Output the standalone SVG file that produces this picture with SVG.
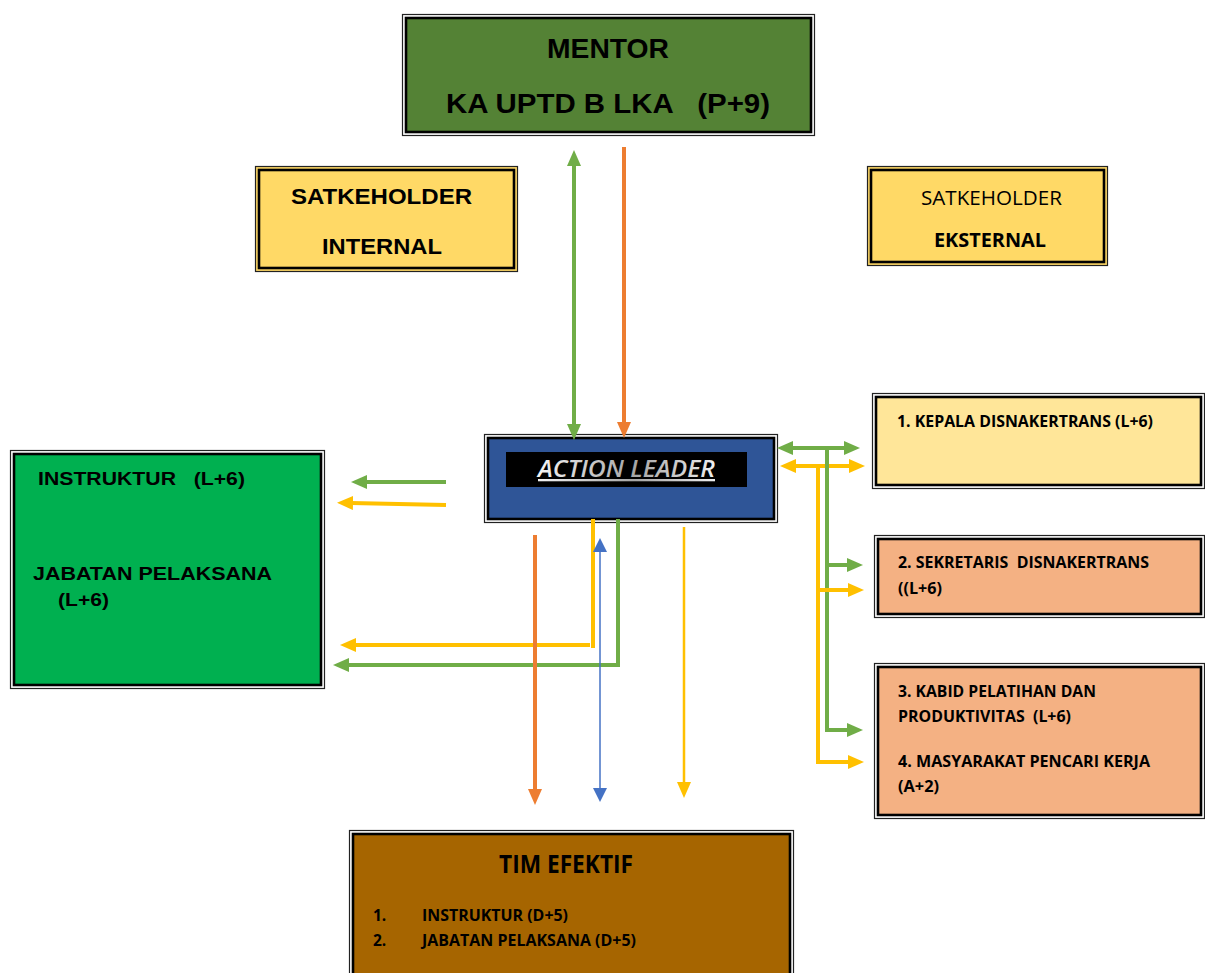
<svg xmlns="http://www.w3.org/2000/svg" width="1205" height="973" viewBox="0 0 1205 973">
<style>
.fo{stroke:#222;stroke-width:1.2}
.fi{stroke:#000;stroke-width:2.6}
.ar{font-family:"Liberation Sans",Arial,sans-serif;font-weight:bold;fill:#000}
.ca{font-family:"Open Sans","Noto Sans",sans-serif;font-weight:bold;fill:#000}
.cr{font-family:"Open Sans","Noto Sans",sans-serif;fill:#000}
.g{stroke:#70AD47;stroke-width:4;fill:none}
.y{stroke:#FFC000;stroke-width:4;fill:none}
.o{stroke:#ED7D31;stroke-width:4;fill:none}
.b{stroke:#4472C4;stroke-width:1.5;fill:none}
</style>
<defs>
<marker id="hG" markerUnits="userSpaceOnUse" markerWidth="16" markerHeight="14" refX="2" refY="7" orient="auto-start-reverse"><path d="M0,0 L16,7 L0,14 z" fill="#70AD47"/></marker>
<marker id="hY" markerUnits="userSpaceOnUse" markerWidth="16" markerHeight="14" refX="2" refY="7" orient="auto-start-reverse"><path d="M0,0 L16,7 L0,14 z" fill="#FFC000"/></marker>
<marker id="hO" markerUnits="userSpaceOnUse" markerWidth="16" markerHeight="14" refX="2" refY="7" orient="auto-start-reverse"><path d="M0,0 L16,7 L0,14 z" fill="#ED7D31"/></marker>
<marker id="hB" markerUnits="userSpaceOnUse" markerWidth="14" markerHeight="14" refX="2" refY="7" orient="auto-start-reverse"><path d="M0,0 L14,7 L0,14 z" fill="#4472C4"/></marker>
<linearGradient id="txtg" x1="0" y1="0" x2="1" y2="0">
<stop offset="0" stop-color="#f5f5f5"/><stop offset="0.55" stop-color="#a6a6a6"/><stop offset="1" stop-color="#efefef"/>
</linearGradient>
</defs>
<rect width="1205" height="973" fill="#fff"/>

<g id="mentor">
<rect class="fo" x="402.5" y="14.5" width="412" height="121" fill="#fff"/>
<rect class="fi" x="406" y="18" width="405" height="114" fill="#548235"/>
<text class="ar" x="608" y="58" font-size="27" text-anchor="middle" textLength="122" lengthAdjust="spacingAndGlyphs">MENTOR</text>
<text class="ar" x="446" y="113" font-size="27" textLength="324" lengthAdjust="spacingAndGlyphs" xml:space="preserve">KA UPTD B LKA   (P+9)</text>
</g>

<g id="stakeholder-internal">
<rect class="fo" x="255.5" y="166.5" width="262" height="105" fill="#FFD966"/>
<rect class="fi" x="259" y="170" width="255" height="98" fill="#FFD966"/>
<text class="ar" x="291" y="204" font-size="22" textLength="181" lengthAdjust="spacingAndGlyphs">SATKEHOLDER</text>
<text class="ar" x="322" y="254" font-size="22" textLength="120" lengthAdjust="spacingAndGlyphs">INTERNAL</text>
</g>

<g id="stakeholder-eksternal">
<rect class="fo" x="867.5" y="166.5" width="240" height="99" fill="#FFD966"/>
<rect class="fi" x="871" y="170" width="233" height="92" fill="#FFD966"/>
<text class="cr" x="921" y="205" font-size="20" textLength="141" lengthAdjust="spacingAndGlyphs">SATKEHOLDER</text>
<text class="ca" x="934" y="247" font-size="19" textLength="112" lengthAdjust="spacingAndGlyphs">EKSTERNAL</text>
</g>

<g id="action-leader">
<rect class="fo" x="484.5" y="434.5" width="293" height="88" fill="#fff"/>
<rect class="fi" x="488" y="438" width="286" height="81" fill="#2F5597"/>
<rect x="506" y="452" width="241" height="35" fill="#000"/>
<text x="538" y="477" font-family="'Open Sans','Noto Sans',sans-serif" font-style="italic" font-weight="600" font-size="23" fill="url(#txtg)" text-decoration="underline" textLength="177" lengthAdjust="spacingAndGlyphs">ACTION LEADER</text>
</g>

<g id="instruktur-pelaksana">
<rect class="fo" x="10.5" y="450.5" width="314" height="238" fill="#fff"/>
<rect class="fi" x="14" y="454" width="307" height="231" fill="#00B050"/>
<text class="ar" x="38" y="485" font-size="19" textLength="207" lengthAdjust="spacingAndGlyphs" xml:space="preserve">INSTRUKTUR   (L+6)</text>
<text class="ar" x="33" y="580" font-size="19" textLength="239" lengthAdjust="spacingAndGlyphs">JABATAN PELAKSANA</text>
<text class="ar" x="58" y="606" font-size="19" textLength="51" lengthAdjust="spacingAndGlyphs">(L+6)</text>
</g>

<g id="kepala-disnakertrans">
<rect class="fo" x="872.5" y="393.5" width="332" height="95" fill="#fff"/>
<rect class="fi" x="876" y="397" width="325" height="88" fill="#FFE699"/>
<text class="ca" x="897" y="427" font-size="16.5" textLength="256" lengthAdjust="spacingAndGlyphs">1. KEPALA DISNAKERTRANS (L+6)</text>
</g>

<g id="sekretaris">
<rect class="fo" x="874.5" y="535.5" width="330" height="82" fill="#fff"/>
<rect class="fi" x="878" y="539" width="323" height="75" fill="#F4B183"/>
<text class="ca" x="898" y="568" font-size="16.5" textLength="251" lengthAdjust="spacingAndGlyphs" xml:space="preserve">2. SEKRETARIS  DISNAKERTRANS</text>
<text class="ca" x="898" y="594" font-size="16.5" textLength="44" lengthAdjust="spacingAndGlyphs">((L+6)</text>
</g>

<g id="kabid-masyarakat">
<rect class="fo" x="874.5" y="663.5" width="330" height="155" fill="#fff"/>
<rect class="fi" x="878" y="667" width="323" height="148" fill="#F4B183"/>
<text class="ca" x="898" y="697" font-size="16.5" textLength="198" lengthAdjust="spacingAndGlyphs">3. KABID PELATIHAN DAN</text>
<text class="ca" x="898" y="722" font-size="16.5" textLength="173" lengthAdjust="spacingAndGlyphs" xml:space="preserve">PRODUKTIVITAS  (L+6)</text>
<text class="ca" x="898" y="767" font-size="16.5" textLength="252" lengthAdjust="spacingAndGlyphs">4. MASYARAKAT PENCARI KERJA</text>
<text class="ca" x="898" y="792" font-size="16.5" textLength="41" lengthAdjust="spacingAndGlyphs">(A+2)</text>
</g>

<g id="tim-efektif">
<rect class="fo" x="349.5" y="830.5" width="444" height="160" fill="#fff"/>
<rect class="fi" x="353" y="834" width="437" height="153" fill="#A66500"/>
<text class="ca" x="499" y="873" font-size="25" textLength="134" lengthAdjust="spacingAndGlyphs">TIM EFEKTIF</text>
<text class="ca" x="373" y="921" font-size="15.5">1.</text>
<text class="ca" x="422" y="921" font-size="15.5" textLength="146" lengthAdjust="spacingAndGlyphs">INSTRUKTUR (D+5)</text>
<text class="ca" x="373" y="946" font-size="15.5">2.</text>
<text class="ca" x="422" y="946" font-size="15.5" textLength="214" lengthAdjust="spacingAndGlyphs">JABATAN PELAKSANA (D+5)</text>
</g>

<g id="connectors">
<line class="g" x1="574" y1="164" x2="574" y2="426" marker-start="url(#hG)" marker-end="url(#hG)"/>
<line class="o" x1="624" y1="147" x2="624" y2="424" marker-end="url(#hO)"/>
<line class="g" x1="446" y1="482" x2="365" y2="482" marker-end="url(#hG)"/>
<line class="y" x1="446" y1="505" x2="351" y2="503" marker-end="url(#hY)"/>
<path class="y" d="M593,519 V648 M590,645 H354" marker-end="url(#hY)"/>
<path class="g" d="M618,519 V665 H347" marker-end="url(#hG)"/>
<line class="o" x1="535" y1="535" x2="535" y2="791" marker-end="url(#hO)"/>
<line class="b" x1="600" y1="550" x2="600" y2="790" marker-start="url(#hB)" marker-end="url(#hB)"/>
<line class="y" style="stroke-width:2.5" x1="684" y1="527" x2="684" y2="784" marker-end="url(#hY)"/>
<line class="g" x1="791" y1="448" x2="846" y2="448" marker-start="url(#hG)" marker-end="url(#hG)"/>
<line class="y" x1="794" y1="466" x2="851" y2="466" marker-start="url(#hY)" marker-end="url(#hY)"/>
<path class="g" d="M827,446 V730 H849" marker-end="url(#hG)"/>
<line class="g" x1="827" y1="565" x2="849" y2="565" marker-end="url(#hG)"/>
<path class="y" d="M818,467 V762 H850" marker-end="url(#hY)"/>
<line class="y" x1="818" y1="590" x2="850" y2="590" marker-end="url(#hY)"/>
</g>
</svg>
